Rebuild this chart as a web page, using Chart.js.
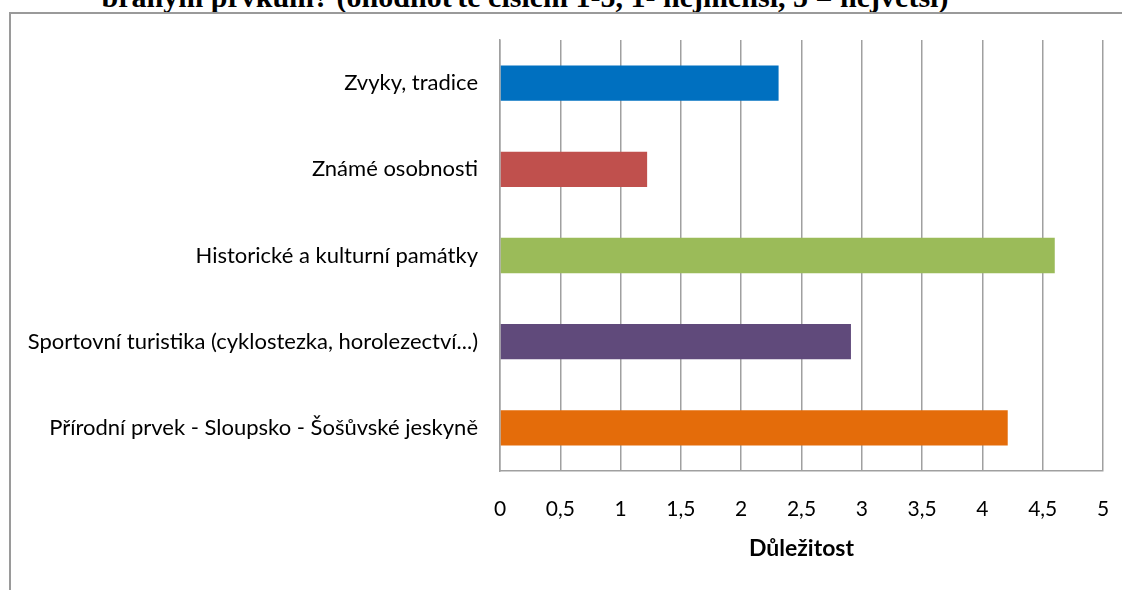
<!DOCTYPE html>
<html lang="cs">
<head>
  <meta charset="UTF-8">
  <title>Důležitost</title>
  <script src="https://cdn.jsdelivr.net/npm/chart.js"></script>
  <style>
    html, body { margin: 0; padding: 0; background: #fff; overflow: hidden; }
    #wrap { position: relative; width: 1122px; height: 590px; }
    #frame {
      position: absolute; left: 9px; top: 12px; width: 1200px; height: 700px;
      border-left: 2px solid #9a9a9a; border-top: 2px solid #9a9a9a;
    }
    #heading {
      position: absolute; left: 0; width: 1050px; top: -20px; text-align: center;
      font-family: "Liberation Serif", serif; font-weight: bold; font-size: 30px;
      white-space: nowrap; color: #000;
    }
    #chart { position: absolute; left: 0; top: 0; }
  </style>
</head>
<body>
  <div id="wrap">
    <div id="heading">braným prvkům? (ohodnoťte číslem 1-5, 1- nejmenší, 5 = největší)</div>
    <div id="frame"></div>
    <canvas id="chart" width="1122" height="590"></canvas>
  </div>

  <script>
    // data
    const categories = [
      'Zvyky, tradice',
      'Známé osobnosti',
      'Historické a kulturní památky',
      'Sportovní turistika (cyklostezka, horolezectví...)',
      'Přírodní prvek - Sloupsko - Šošůvské jeskyně'
    ];
    const importance = [2.31, 1.22, 4.6, 2.91, 4.21];
    const barColors = ['#0070C0', '#C0504D', '#9BBB59', '#604A7B', '#E46C0A'];
    const xTicks = [0, 0.5, 1, 1.5, 2, 2.5, 3, 3.5, 4, 4.5, 5];

    const font = "Lato";

    const ctx = document.getElementById('chart').getContext('2d');
    const chart = new Chart(ctx, {
      type: 'bar',
      data: {
        labels: categories,
        datasets: [{
          data: importance,
          backgroundColor: barColors,
          borderWidth: 0,
          barPercentage: 0.41,
          categoryPercentage: 1
        }]
      },
      options: {
        indexAxis: 'y',
        responsive: false,
        animation: false,
        layout: { padding: { top: 40, right: 19, left: 0, bottom: 0 } },
        scales: {
          x: {
            min: 0,
            max: 5,
            afterBuildTicks: function(scale) {
              scale.ticks = xTicks.map(v => ({ value: v }));
            },
            afterFit: function(scale) {
              scale.height = 119;
              scale.paddingRight = 0;
              scale.paddingLeft = 0;
            },
            grid: { color: '#a0a0a0', lineWidth: 1.5, drawTicks: false },
            border: { color: '#a0a0a0', width: 1.5 },
            ticks: {
              padding: 26,
              color: '#000',
              font: { family: font, size: 21 },
              callback: v => String(v).replace('.', ',')
            },
            title: {
              display: true,
              text: 'Důležitost',
              color: '#000',
              font: { family: font, size: 23, weight: 'bold' },
              padding: { top: 0, bottom: 28 }
            }
          },
          y: {
            afterFit: function(scale) { scale.width = 500; },
            grid: { display: false, drawTicks: false },
            border: { color: '#a0a0a0', width: 1.5 },
            ticks: {
              padding: 22,
              color: '#000',
              font: { family: font, size: 22 }
            }
          }
        },
        plugins: {
          legend: { display: false },
          tooltip: { enabled: false }
        }
      }
    });
  </script>
</body>
</html>
